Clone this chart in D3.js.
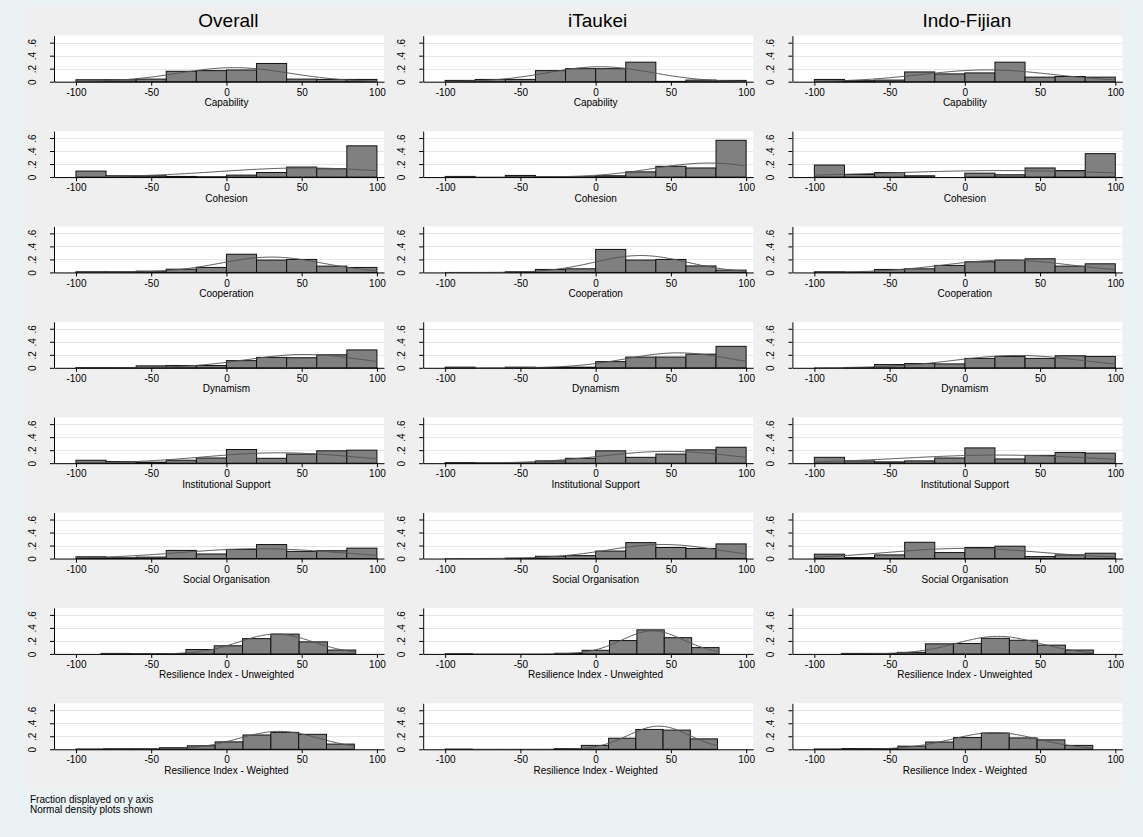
<!DOCTYPE html>
<html>
<head>
<meta charset="utf-8">
<script src="https://cdn.jsdelivr.net/npm/d3@7"></script>
<style>
body { margin: 0; background: #eaf2f3; }
text { font-family: "Liberation Sans", Arial, sans-serif; }
</style>
</head>
<body>
<div id="chart"></div>
<script>
const groups = ["Overall", "iTaukei", "Indo-Fijian"];
const variables = [
    "Capability", "Cohesion", "Cooperation", "Dynamism",
    "Institutional Support", "Social Organisation",
    "Resilience Index - Unweighted", "Resilience Index - Weighted"
];

// histogram fractions per group: [Overall, iTaukei, Indo-Fijian]
const capability = [
    [0.03, 0.03, 0.04, 0.16, 0.17, 0.18, 0.28, 0.04, 0.035, 0.035],
    [0.02, 0.035, 0.035, 0.17, 0.2, 0.2, 0.3, 0.005, 0.025, 0.02],
    [0.035, 0.015, 0.025, 0.15, 0.12, 0.135, 0.3, 0.07, 0.08, 0.07]
];
const cohesion = [
    [0.092, 0.02, 0.02, 0.01, 0.005, 0.03, 0.07, 0.154, 0.128, 0.48],
    [0.01, 0, 0.025, 0.005, 0.005, 0.02, 0.08, 0.165, 0.14, 0.565],
    [0.185, 0.04, 0.07, 0.02, 0, 0.06, 0.035, 0.14, 0.1, 0.36]
];
const cooperation = [
    [0.01, 0.01, 0.02, 0.05, 0.077, 0.28, 0.19, 0.2, 0.097, 0.077],
    [0, 0, 0.01, 0.046, 0.056, 0.354, 0.19, 0.2, 0.1, 0.036],
    [0.01, 0.005, 0.046, 0.056, 0.108, 0.164, 0.19, 0.21, 0.097, 0.133]
];
const dynamism = [
    [0.005, 0.005, 0.03, 0.035, 0.035, 0.11, 0.16, 0.155, 0.2, 0.275],
    [0.01, 0, 0.01, 0.005, 0.01, 0.095, 0.165, 0.165, 0.21, 0.33],
    [0, 0.005, 0.05, 0.065, 0.06, 0.145, 0.175, 0.145, 0.185, 0.175]
];
const institutional = [
    [0.045, 0.025, 0.015, 0.045, 0.08, 0.21, 0.075, 0.14, 0.19, 0.2],
    [0.01, 0.005, 0.005, 0.035, 0.075, 0.19, 0.09, 0.14, 0.205, 0.245],
    [0.09, 0.035, 0.02, 0.035, 0.08, 0.235, 0.065, 0.12, 0.165, 0.155]
];
const socialOrg = [
    [0.027, 0.012, 0.022, 0.125, 0.07, 0.14, 0.215, 0.11, 0.12, 0.16],
    [0, 0, 0.005, 0.035, 0.045, 0.115, 0.245, 0.17, 0.155, 0.225],
    [0.067, 0.015, 0.056, 0.25, 0.092, 0.169, 0.19, 0.03, 0.056, 0.082]
];
const resUnweighted = [
    [0.008, 0.004, 0.006, 0.068, 0.125, 0.235, 0.305, 0.185, 0.06],
    [0.003, 0, 0, 0, 0.01, 0.056, 0.205, 0.37, 0.25, 0.097],
    [0.008, 0.008, 0.024, 0.155, 0.16, 0.24, 0.21, 0.135, 0.06]
];
const resWeighted = [
    [0.004, 0.008, 0.008, 0.024, 0.054, 0.114, 0.22, 0.26, 0.23, 0.08],
    [0.002, 0, 0, 0, 0.01, 0.06, 0.17, 0.305, 0.295, 0.16],
    [0.004, 0.012, 0.012, 0.048, 0.112, 0.18, 0.25, 0.175, 0.145, 0.06]
];
const fractions = [capability, cohesion, cooperation, dynamism,
    institutional, socialOrg, resUnweighted, resWeighted];

// lower edge of first bin and bin width, per variable and group
const binStart = [
    [-100, -100, -100], [-100, -100, -100], [-100, -100, -100], [-100, -100, -100],
    [-100, -100, -100], [-100, -100, -100], [-83.3, -100, -82], [-100, -100, -100]
];
const binWidth = [
    [20, 20, 20], [20, 20, 20], [20, 20, 20], [20, 20, 20],
    [20, 20, 20], [20, 20, 20], [18.8, 18.2, 18.6], [18.5, 18.1, 18.5]
];

// fitted normal curves (mean, sd)
const normMean = [
    [5, 3, 15], [52, 75, 25], [30, 30, 28], [52, 55, 35],
    [35, 48, 22], [22, 45, 0], [33, 38, 22], [35, 42, 20]
];
const normSD = [
    [37, 34.7, 44], [57, 37, 80], [33.8, 30.7, 42], [39, 34.7, 42],
    [50, 44, 64], [53, 37, 51], [24.6, 20.5, 27.5], [26.8, 20.3, 28.9]
];

const xTicks = [-100, -50, 0, 50, 100];
const xTickLabels = ["-100", "-50", "0", "50", "100"];
const yTicks = [0, 0.2, 0.4, 0.6];
const yTickLabels = ["0", ".2", ".4", ".6"];
const notes = ["Fraction displayed on y axis", "Normal density plots shown"];

const width = 1143;
const height = 837;

const svg = d3.select("#chart")
    .append("svg")
    .attr("width", width)
    .attr("height", height);

svg.append("rect").attr("width", width).attr("height", height).attr("fill", "#eaf2f3");
svg.append("rect")
    .attr("x", 24).attr("y", 6)
    .attr("width", 1100).attr("height", 783)
    .attr("fill", "#efefef");

const colLeft = 54, colStep = 369.2, plotW = 330;
const rowBase = 81.7, rowStep = 95.37, plotH = 46;

const normal = (v, m, s) => Math.exp(-0.5 * ((v - m) / s) ** 2) / (s * Math.sqrt(2 * Math.PI));

groups.forEach((g, c) => {
    const x0 = colLeft + c * colStep;
    const x = d3.scaleLinear().domain([-114.6, 104.7]).range([x0, x0 + plotW]);

    svg.append("text")
        .attr("x", x(0) + 2)
        .attr("y", 27)
        .attr("text-anchor", "middle")
        .attr("font-size", 19)
        .attr("font-weight", "normal")
        .text(g);

    variables.forEach((v, r) => {
        const base = rowBase + r * rowStep;
        const y = d3.scaleLinear().domain([0, 0.707]).range([base, base - plotH]);
        const panel = svg.append("g");

        panel.append("rect")
            .attr("x", x0).attr("y", base - plotH)
            .attr("width", plotW).attr("height", plotH)
            .attr("fill", "#fff");

        panel.selectAll(".grid")
            .data(yTicks.slice(1))
            .enter()
            .append("line")
            .attr("x1", x0).attr("x2", x0 + plotW)
            .attr("y1", (d) => Math.round(y(d)) + 0.5)
            .attr("y2", (d) => Math.round(y(d)) + 0.5)
            .attr("stroke", "#e6e6e6");

        const start = binStart[r][c];
        const w = binWidth[r][c];
        const fr = fractions[r][c];

        panel.selectAll(".bar")
            .data(fr)
            .enter()
            .append("rect")
            .attr("x", (d, i) => x(start + i * w))
            .attr("y", (d) => y(d))
            .attr("width", x(start + w) - x(start))
            .attr("height", (d) => base - y(d))
            .attr("fill", "#808080")
            .attr("stroke", "#111")
            .attr("stroke-width", 1);

        // normal density scaled to fraction per bin, over the data range
        const end = start + fr.length * w;
        const pts = d3.range(start, end + 0.001, (end - start) / 200)
            .map((xv) => [xv, w * normal(xv, normMean[r][c], normSD[r][c])]);
        panel.append("path")
            .datum(pts)
            .attr("fill", "none")
            .attr("stroke", "#555")
            .attr("stroke-width", 1)
            .attr("d", d3.line().x((d) => x(d[0])).y((d) => y(d[1])));

        const xAxis = panel.append("g")
            .attr("transform", `translate(0,${base})`)
            .call(d3.axisBottom(x).tickValues(xTicks)
                .tickFormat((d, i) => xTickLabels[i])
                .tickSize(4).tickSizeOuter(0));
        xAxis.attr("font-family", null).attr("font-size", 10);

        const yAxis = panel.append("g")
            .attr("transform", `translate(${x0},0)`)
            .call(d3.axisLeft(y).tickValues(yTicks)
                .tickFormat((d, i) => yTickLabels[i])
                .tickSize(4).tickSizeOuter(0));
        yAxis.attr("font-family", null).attr("font-size", 10);
        yAxis.selectAll(".tick text")
            .attr("transform", "rotate(-90)")
            .attr("x", 0)
            .attr("y", -18)
            .attr("dy", 0)
            .attr("text-anchor", "middle");

        panel.append("text")
            .attr("x", x(0))
            .attr("y", base + 24.5)
            .attr("text-anchor", "middle")
            .attr("font-size", 10)
            .text(v);
    });
});

svg.selectAll(".note")
    .data(notes)
    .enter()
    .append("text")
    .attr("x", 30)
    .attr("y", (d, i) => 803 + i * 10)
    .attr("font-size", 10)
    .text((d) => d);
</script>
</body>
</html>
